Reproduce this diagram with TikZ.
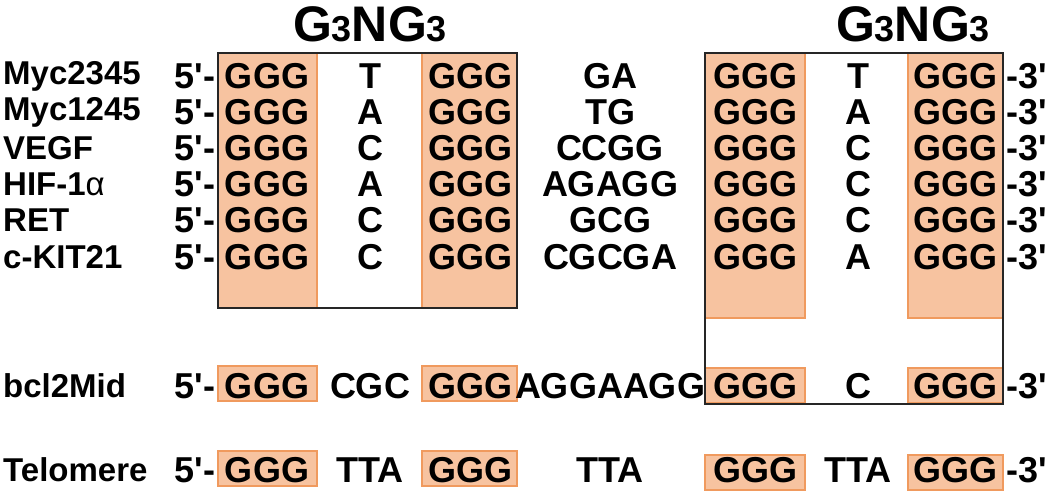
\documentclass[tikz,border=0pt]{standalone}
\usepackage{fontspec}
\setmainfont[Ligatures=NoCommon]{Liberation Sans}
\definecolor{gfill}{HTML}{F7C3A0}
\definecolor{gline}{HTML}{F09A5E}
\newcommand{\qq}{\textquotesingle}
\begin{document}
\begin{tikzpicture}[x=1pt,y=-1pt,
  t/.style={font=\fontsize{36}{36}\selectfont\bfseries,inner sep=0pt,anchor=center},
  lab/.style={t,anchor=west,font=\fontsize{33}{33}\selectfont\bfseries},
  gbox/.style={fill=gfill,draw=gline,line width=1.2pt},
  frame/.style={draw=black!85,line width=2pt}]
\useasboundingbox (0,0) rectangle (1050,491);
% orange columns
\fill[gbox] (218,53) rectangle (317,308);
\fill[gbox] (422,53) rectangle (517,308);
\fill[gbox] (705,53) rectangle (805,318);
\fill[gbox] (908,53) rectangle (1003,318);
\fill[gbox] (218,366) rectangle (317,401);
\fill[gbox] (422,366) rectangle (517,401);
\fill[gbox] (705,368) rectangle (805,403);
\fill[gbox] (908,368) rectangle (1003,403);
\fill[gbox] (218,451) rectangle (317,486);
\fill[gbox] (422,451) rectangle (517,486);
\fill[gbox] (705,455) rectangle (805,490);
\fill[gbox] (908,455) rectangle (1003,490);
% frames
\draw[frame] (218,53) rectangle (517,308);
\draw[frame] (705,53) rectangle (1003,404);
% titles
\node[t,font=\fontsize{50}{50}\selectfont\bfseries] (h1) at (370,24) {G{\fontsize{36}{36}\selectfont 3}NG{\fontsize{36}{36}\selectfont 3}};
\node[t,font=\fontsize{50}{50}\selectfont\bfseries] (h2) at (913,24) {G{\fontsize{36}{36}\selectfont 3}NG{\fontsize{36}{36}\selectfont 3}};
% rows
\foreach \y/\name/\a/\b/\c/\d in {
  76/Myc2345/T/GA/T/GGG,
  112/Myc1245/A/TG/A/GGG,
  148/VEGF/C/CCGG/C/GGG,
  184/HIF-1{\normalfont α}/A/AGAGG/C/GGG,
  220/RET/C/GCG/C/GGG,
  257/c-KIT21/C/CGCGA/A/GGG,
  386/bcl2Mid/CGC/AGGAAGG/C/GGG,
  470/Telomere/TTA/TTA/TTA/GGG}{
  \node[lab] (n\y) at (3,\y) {\name};
  \node[t] (f\y) at (195,\y) {5\qq-};
  \node[t] (g1\y) at (267,\y) {GGG};
  \node[t] (a\y) at (370,\y) {\a};
  \node[t] (g2\y) at (470,\y) {GGG};
  \node[t] (b\y) at (610,\y) {\b};
  \node[t] (g3\y) at (755,\y) {GGG};
  \node[t] (c\y) at (858,\y) {\c};
  \node[t] (g4\y) at (955,\y) {GGG};
  \node[t] (e\y) at (1027,\y) {-3\qq};
}
\end{tikzpicture}
\end{document}
